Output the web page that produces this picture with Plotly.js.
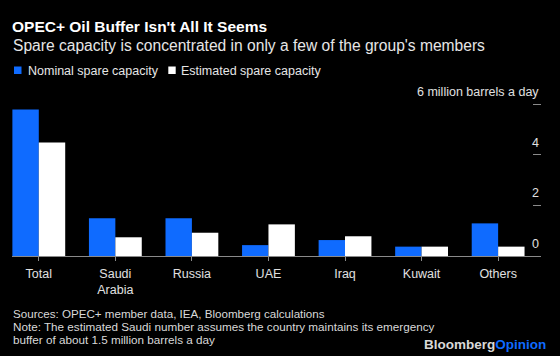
<!DOCTYPE html>
<html>
<head>
<meta charset="utf-8">
<script src="https://cdn.plot.ly/plotly-3.0.1.min.js"></script>
<style>
html,body{margin:0;padding:0;background:#000;}
#chart{width:560px;height:356px;}
</style>
</head>
<body>
<div id="chart"></div>
<script>
const categories = ["Total", "Saudi<br>Arabia", "Russia", "UAE", "Iraq", "Kuwait", "Others"];
const nominal = [5.79, 1.49, 1.49, 0.43, 0.63, 0.37, 1.29];
const estimated = [4.49, 0.74, 0.92, 1.25, 0.78, 0.37, 0.37];
const yTickVals = [0, 2, 4, 6];
const yTickText = ["0", "2", "4", "6 million barrels a day"];
const seriesNames = ["Nominal spare capacity", "Estimated spare capacity"];

const BLUE = "#0f6bff";
const FONT = "Liberation Sans, Arial, Helvetica, sans-serif";

const traces = [
  {type: "bar", name: seriesNames[0], x: categories, y: nominal, marker: {color: BLUE}, hoverinfo: "skip"},
  {type: "bar", name: seriesNames[1], x: categories, y: estimated, marker: {color: "#ffffff"}, hoverinfo: "skip"}
];

const yLabelAnnotations = yTickVals.map((v, i) => ({
  xref: "paper", yref: "y", x: 1, y: v, xshift: 0, yshift: 12,
  xanchor: "right", yanchor: "middle", showarrow: false,
  text: yTickText[i], font: {family: FONT, size: 12.5, color: "#e0e0e0"}
}));

const layout = {
  width: 560, height: 356,
  paper_bgcolor: "#000", plot_bgcolor: "#000",
  margin: {l: 12, r: 19, t: 84, b: 100},
  showlegend: false,
  barmode: "group", bargap: 0.31, bargroupgap: 0,
  font: {family: FONT, color: "#e6e6e6", size: 12.5},
  title: {
    text: "<b>OPEC+ Oil Buffer Isn't All It Seems</b>",
    font: {family: FONT, size: 15.5, color: "#ffffff"},
    x: 12/560, xanchor: "left", xref: "container",
    y: 1 - 26.5/356, yanchor: "middle", yref: "container"
  },
  xaxis: {
    type: "category", range: [-0.35, 6.56],
    showline: true, linecolor: "#8a8a8a", linewidth: 1,
    ticks: "outside", ticklen: 4, tickcolor: "#8a8a8a", tickwidth: 1,
    ticklabelstandoff: 2,
    tickfont: {family: FONT, size: 12.5, color: "#e0e0e0"},
    showgrid: false, zeroline: false, fixedrange: true
  },
  yaxis: {
    side: "right", range: [0, 6.8],
    tickvals: yTickVals, showticklabels: false,
    ticks: "inside", ticklen: 8, tickcolor: "#8a8a8a", tickwidth: 1,
    showgrid: false, zeroline: false, showline: false, fixedrange: true
  },
  shapes: [
    {type: "rect", xref: "paper", yref: "paper", xsizemode: "pixel", ysizemode: "pixel",
     xanchor: 0, yanchor: 1, x0: 2, x1: 9.5, y0: 10, y1: 17.5, fillcolor: BLUE, line: {width: 0}},
    {type: "rect", xref: "paper", yref: "paper", xsizemode: "pixel", ysizemode: "pixel",
     xanchor: 0, yanchor: 1, x0: 156.3, x1: 163.7, y0: 10, y1: 17.5, fillcolor: "#ffffff", line: {width: 0}}
  ],
  annotations: [
    {xref: "paper", yref: "paper", x: 0, y: 1, xshift: -1, yshift: 84 - 45, xanchor: "left", yanchor: "middle",
     text: "Spare capacity is concentrated in only a few of the group's members", showarrow: false,
     font: {family: FONT, size: 15.6, color: "#e6e6e6"}},
    {xref: "paper", yref: "paper", x: 0, y: 1, xshift: 14, yshift: 84 - 71, xanchor: "left", yanchor: "middle",
     text: seriesNames[0], showarrow: false, font: {family: FONT, size: 12.5, color: "#e6e6e6"}},
    {xref: "paper", yref: "paper", x: 0, y: 1, xshift: 167, yshift: 84 - 71, xanchor: "left", yanchor: "middle",
     text: seriesNames[1], showarrow: false, font: {family: FONT, size: 12.5, color: "#e6e6e6"}},
    {xref: "paper", yref: "paper", x: 0, y: 0, xshift: -1, yshift: 256 - 313, xanchor: "left", yanchor: "middle",
     text: "Sources: OPEC+ member data, IEA, Bloomberg calculations", showarrow: false,
     font: {family: FONT, size: 11.6, color: "#d9d9d9"}},
    {xref: "paper", yref: "paper", x: 0, y: 0, xshift: -1, yshift: 256 - 326.3, xanchor: "left", yanchor: "middle",
     text: "Note: The estimated Saudi number assumes the country maintains its emergency", showarrow: false,
     font: {family: FONT, size: 11.7, color: "#d9d9d9"}},
    {xref: "paper", yref: "paper", x: 0, y: 0, xshift: -1, yshift: 256 - 339.7, xanchor: "left", yanchor: "middle",
     text: "buffer of about 1.5 million barrels a day", showarrow: false,
     font: {family: FONT, size: 11.7, color: "#d9d9d9"}},
    {xref: "paper", yref: "paper", x: 1, y: 0, xshift: 7, yshift: 256 - 344, xanchor: "right", yanchor: "middle",
     text: "<b>Bloomberg<span style='color:" + BLUE + "'>Opinion</span></b>", showarrow: false,
     font: {family: FONT, size: 13.5, color: "#d9d9d9"}}
  ].concat(yLabelAnnotations)
};

Plotly.newPlot("chart", traces, layout, {staticPlot: true, displayModeBar: false});
</script>
</body>
</html>
